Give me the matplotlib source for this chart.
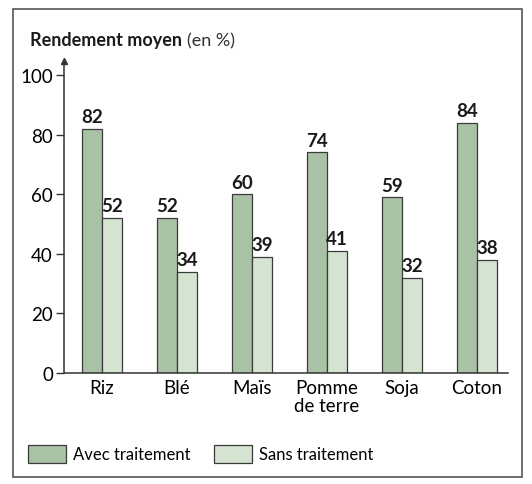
import numpy as np
import matplotlib.pyplot as plt
from matplotlib.patches import Rectangle, Patch

CROPS = ["Riz", "Blé", "Maïs", "Pomme\nde terre", "Soja", "Coton"]
AVEC = [82, 52, 60, 74, 59, 84]
SANS = [52, 34, 39, 41, 32, 38]
Y_TICKS = [0, 20, 40, 60, 80, 100]

C_AVEC = "#a9c2a5"
C_SANS = "#d5e3d1"
EDGE = "#3a3a3a"

plt.rcParams["font.family"] = ["Lato", "DejaVu Sans"]

fig = plt.figure(figsize=(5.32, 4.85), dpi=100)
ax = fig.add_axes([0.1203, 0.2289, 0.8346, 0.6433])

x = np.arange(len(CROPS))
w = 0.267
ax.bar(x - w / 2, AVEC, w, color=C_AVEC, edgecolor=EDGE, linewidth=0.9)
ax.bar(x + w / 2, SANS, w, color=C_SANS, edgecolor=EDGE, linewidth=0.9)

for xi, a, s in zip(x, AVEC, SANS):
    ax.text(xi - w / 2, a + 1.2, str(a), ha="center", va="bottom",
            fontsize=13.5, fontweight="bold", color="#1a1a1a")
    ax.text(xi + w / 2, s + 1.2, str(s), ha="center", va="bottom",
            fontsize=13.5, fontweight="bold", color="#1a1a1a")

ax.set_xlim(-0.507, 5.413)
ax.set_ylim(0, 104.7)
ax.set_yticks(Y_TICKS)
ax.set_xticks(x)
ax.set_xticklabels(CROPS, fontsize=13.5, linespacing=1.1)
ax.tick_params(axis="x", length=0, pad=4)
ax.tick_params(axis="y", length=6, width=1, direction="out", labelsize=13.5,
               pad=2, color="#333333")
for s in ["top", "right"]:
    ax.spines[s].set_visible(False)
for s in ["left", "bottom"]:
    ax.spines[s].set_color("#333333")
    ax.spines[s].set_linewidth(1.1)
ax.plot([0], [1], marker="^", color="#333333", markersize=5,
        transform=ax.transAxes, clip_on=False)

fig.text(0.056, 0.905, "Rendement moyen", fontsize=13, fontweight="bold",
         ha="left", va="baseline", color="#1a1a1a")
fig.text(0.352, 0.905, "(en %)", fontsize=13, ha="left", va="baseline",
         color="#333333")

handles = [Patch(facecolor=C_AVEC, edgecolor=EDGE, linewidth=0.9),
           Patch(facecolor=C_SANS, edgecolor=EDGE, linewidth=0.9)]
fig.legend(handles, ["Avec traitement", "Sans traitement"], ncol=2,
           loc="center left", bbox_to_anchor=(0.04, 0.062), frameon=False,
           fontsize=12, handlelength=2.3, handleheight=1.35,
           handletextpad=0.4, columnspacing=1.4, borderaxespad=0)

# cadre autour de la figure
fig.add_artist(Rectangle((0.025, 0.015), 0.956, 0.965, transform=fig.transFigure,
                         fill=False, edgecolor="#555555", linewidth=1.2))

fig.savefig("out.png", dpi=100, facecolor="white")
